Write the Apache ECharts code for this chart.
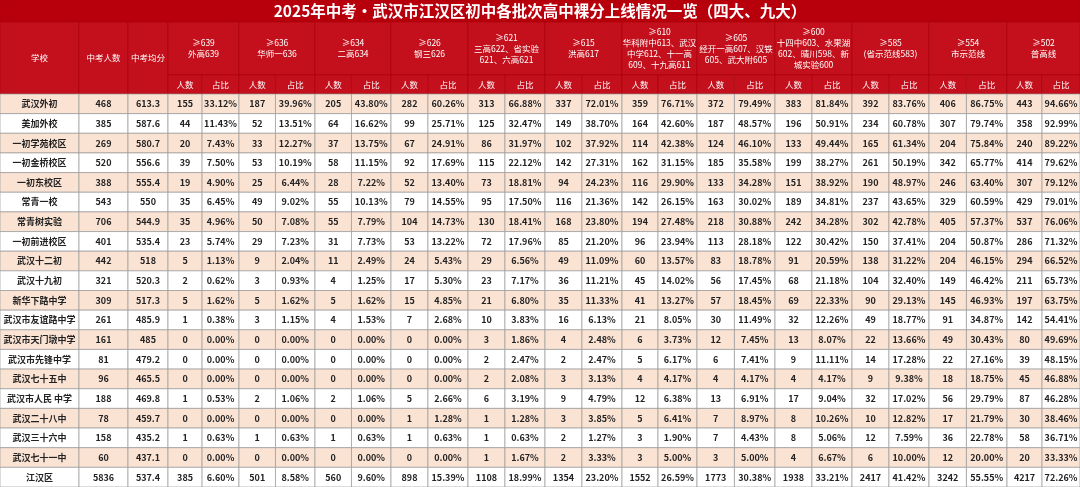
<!DOCTYPE html>
<html style="height: 100%">
<head>
<meta charset="utf-8">
</head>
<body style="height: 100%; margin: 0">
<div id="container" style="height: 100%"></div>
<script src="https://cdn.jsdelivr.net/npm/echarts@6/dist/echarts.min.js"></script>
<script type="text/javascript">
var title = '2025年中考•武汉市江汉区初中各批次高中裸分上线情况一览（四大、九大）';
var schools = ['武汉外初', '美加外校', '一初学苑校区', '一初金桥校区', '一初东校区', '常青一校', '常青树实验', '一初前进校区', '武汉十二初', '武汉十九初', '新华下路中学', '武汉市友谊路中学', '武汉市天门墩中学', '武汉市先锋中学', '武汉七十五中', '武汉市人民 中学', '武汉二十八中', '武汉三十六中', '武汉七十一中', '江汉区'];
var totals = [468, 385, 269, 520, 388, 543, 706, 401, 442, 321, 309, 261, 161, 81, 96, 188, 78, 158, 60, 5836];
var avgs = ['613.3', '587.6', '580.7', '556.6', '555.4', '550', '544.9', '535.4', '518', '520.3', '517.3', '485.9', '485', '479.2', '465.5', '469.8', '459.7', '435.2', '437.1', '537.4'];

var groupHeads = ['≥639\n外高639', '≥636\n华师一636', '≥634\n二高634', '≥626\n钢三626',
  '≥621\n三高622、省实验\n621、六高621', '≥615\n洪高617',
  '≥610\n华科附中613、武汉\n中学612、十一高\n609、十九高611',
  '≥605\n经开一高607、汉铁\n605、武大附605',
  '≥600\n十四中603、水果湖\n602、晴川598、新\n城实验600',
  '≥585\n(省示范线583)', '≥554\n市示范线', '≥502\n普高线'];

var n639 = [155, 44, 20, 39, 19, 35, 35, 23, 5, 2, 5, 1, 0, 0, 0, 1, 0, 1, 0, 385];
var p639 = [33.12, 11.43, 7.43, 7.50, 4.90, 6.45, 4.96, 5.74, 1.13, 0.62, 1.62, 0.38, 0, 0, 0, 0.53, 0, 0.63, 0, 6.60];
var n636 = [187, 52, 33, 53, 25, 49, 50, 29, 9, 3, 5, 3, 0, 0, 0, 2, 0, 1, 0, 501];
var p636 = [39.96, 13.51, 12.27, 10.19, 6.44, 9.02, 7.08, 7.23, 2.04, 0.93, 1.62, 1.15, 0, 0, 0, 1.06, 0, 0.63, 0, 8.58];
var n634 = [205, 64, 37, 58, 28, 55, 55, 31, 11, 4, 5, 4, 0, 0, 0, 2, 0, 1, 0, 560];
var p634 = [43.80, 16.62, 13.75, 11.15, 7.22, 10.13, 7.79, 7.73, 2.49, 1.25, 1.62, 1.53, 0, 0, 0, 1.06, 0, 0.63, 0, 9.60];
var n626 = [282, 99, 67, 92, 52, 79, 104, 53, 24, 17, 15, 7, 0, 0, 0, 5, 1, 1, 0, 898];
var p626 = [60.26, 25.71, 24.91, 17.69, 13.40, 14.55, 14.73, 13.22, 5.43, 5.30, 4.85, 2.68, 0, 0, 0, 2.66, 1.28, 0.63, 0, 15.39];
var n621 = [313, 125, 86, 115, 73, 95, 130, 72, 29, 23, 21, 10, 3, 2, 2, 6, 1, 1, 1, 1108];
var p621 = [66.88, 32.47, 31.97, 22.12, 18.81, 17.50, 18.41, 17.96, 6.56, 7.17, 6.80, 3.83, 1.86, 2.47, 2.08, 3.19, 1.28, 0.63, 1.67, 18.99];
var n615 = [337, 149, 102, 142, 94, 116, 168, 85, 49, 36, 35, 16, 4, 2, 3, 9, 3, 2, 2, 1354];
var p615 = [72.01, 38.70, 37.92, 27.31, 24.23, 21.36, 23.80, 21.20, 11.09, 11.21, 11.33, 6.13, 2.48, 2.47, 3.13, 4.79, 3.85, 1.27, 3.33, 23.20];
var n610 = [359, 164, 114, 162, 116, 142, 194, 96, 60, 45, 41, 21, 6, 5, 4, 12, 5, 3, 3, 1552];
var p610 = [76.71, 42.60, 42.38, 31.15, 29.90, 26.15, 27.48, 23.94, 13.57, 14.02, 13.27, 8.05, 3.73, 6.17, 4.17, 6.38, 6.41, 1.90, 5.00, 26.59];
var n605 = [372, 187, 124, 185, 133, 163, 218, 113, 83, 56, 57, 30, 12, 6, 4, 13, 7, 7, 3, 1773];
var p605 = [79.49, 48.57, 46.10, 35.58, 34.28, 30.02, 30.88, 28.18, 18.78, 17.45, 18.45, 11.49, 7.45, 7.41, 4.17, 6.91, 8.97, 4.43, 5.00, 30.38];
var n600 = [383, 196, 133, 199, 151, 189, 242, 122, 91, 68, 69, 32, 13, 9, 4, 17, 8, 8, 4, 1938];
var p600 = [81.84, 50.91, 49.44, 38.27, 38.92, 34.81, 34.28, 30.42, 20.59, 21.18, 22.33, 12.26, 8.07, 11.11, 4.17, 9.04, 10.26, 5.06, 6.67, 33.21];
var n585 = [392, 234, 165, 261, 190, 237, 302, 150, 138, 104, 90, 49, 22, 14, 9, 32, 10, 12, 6, 2417];
var p585 = [83.76, 60.78, 61.34, 50.19, 48.97, 43.65, 42.78, 37.41, 31.22, 32.40, 29.13, 18.77, 13.66, 17.28, 9.38, 17.02, 12.82, 7.59, 10.00, 41.42];
var n554 = [406, 307, 204, 342, 246, 329, 405, 204, 204, 149, 145, 91, 49, 22, 18, 56, 17, 36, 12, 3242];
var p554 = [86.75, 79.74, 75.84, 65.77, 63.40, 60.59, 57.37, 50.87, 46.15, 46.42, 46.93, 34.87, 30.43, 27.16, 18.75, 29.79, 21.79, 22.78, 20.00, 55.55];
var n502 = [443, 358, 240, 414, 307, 429, 537, 286, 294, 211, 197, 142, 80, 39, 45, 87, 30, 58, 20, 4217];
var p502 = [94.66, 92.99, 89.22, 79.62, 79.12, 79.01, 76.06, 71.32, 66.52, 65.73, 63.75, 54.41, 49.69, 48.15, 46.88, 46.28, 38.46, 36.71, 33.33, 72.26];

var groupN = [n639, n636, n634, n626, n621, n615, n610, n605, n600, n585, n554, n502];
var groupP = [p639, p636, p634, p626, p621, p615, p610, p605, p600, p585, p554, p502];

// layout (table grid in pixel units of the value axes)
var colEdges = [0, 79, 128, 168, 239, 315, 391, 468, 545, 622, 697, 775, 852, 929, 1007, 1080];
var titleH = 22, headH = 75, subH = 94, rowH = (487 - 94) / 20;

var RED_T = '#b8000c', RED_H = '#c4101c', PEACH = '#fbe3d4';
var cells = [];
function cell(x0, y0, x1, y1, text, fill, color, font, lh) {
  cells.push({ x0: x0, y0: y0, x1: x1, y1: y1, text: text, fill: fill, color: color, font: font, lh: lh || 12 });
}
var HF = '8.5px "Noto Sans CJK SC"';
var DF = 'bold 9px "Noto Sans CJK SC"';

cell(0, 0, 1080, titleH, title, RED_T, '#fff', 'bold 15.5px "Noto Sans CJK SC"');
cell(0, titleH, colEdges[1], subH, '学校', RED_H, '#fff', HF);
cell(colEdges[1], titleH, colEdges[2], subH, '中考人数', RED_H, '#fff', HF);
cell(colEdges[2], titleH, colEdges[3], subH, '中考均分', RED_H, '#fff', HF);
groupHeads.forEach(function (h, g) {
  var a = colEdges[g + 3], b = colEdges[g + 4], m = a + (b - a) * 0.48;
  cell(a, titleH, b, headH, h, RED_H, '#fff', HF, 11);
  cell(a, headH, m, subH, '人数', RED_H, '#fff', HF);
  cell(m, headH, b, subH, '占比', RED_H, '#fff', HF);
});
schools.forEach(function (s, r) {
  var y0 = subH + r * rowH, y1 = y0 + rowH;
  var fill = (r % 2 === 0 && r < schools.length - 1) ? PEACH : '#ffffff';
  cell(0, y0, colEdges[1], y1, s, fill, '#222', DF);
  cell(colEdges[1], y0, colEdges[2], y1, String(totals[r]), fill, '#222', DF);
  cell(colEdges[2], y0, colEdges[3], y1, avgs[r], fill, '#222', DF);
  groupN.forEach(function (arr, g) {
    var a = colEdges[g + 3], b = colEdges[g + 4], m = a + (b - a) * 0.48;
    cell(a, y0, m, y1, String(arr[r]), fill, '#222', DF);
    cell(m, y0, b, y1, groupP[g][r].toFixed(2) + '%', fill, '#222', DF);
  });
});

var myChart = echarts.init(document.getElementById('container'));
var option = {
  animation: false,
  grid: { left: 0, right: 0, top: 0, bottom: 0 },
  xAxis: { type: 'value', min: 0, max: 1080, show: false },
  yAxis: { type: 'value', min: 0, max: 487, inverse: true, show: false },
  series: [{
    type: 'custom',
    coordinateSystem: 'cartesian2d',
    data: cells.map(function (c) { return [c.x0, c.y0, c.x1, c.y1]; }),
    renderItem: function (params, api) {
      var c = cells[params.dataIndex];
      var p0 = api.coord([api.value(0), api.value(1)]);
      var p1 = api.coord([api.value(2), api.value(3)]);
      var isRed = c.fill !== '#ffffff' && c.fill !== PEACH;
      return {
        type: 'group',
        children: [{
          type: 'rect',
          shape: { x: p0[0], y: p0[1], width: p1[0] - p0[0], height: p1[1] - p0[1] },
          style: { fill: c.fill, stroke: isRed ? '#a8000a' : '#9a9a9a', lineWidth: isRed ? 0.6 : 0.7 }
        }, {
          type: 'text',
          style: {
            text: c.text, x: (p0[0] + p1[0]) / 2, y: (p0[1] + p1[1]) / 2,
            align: 'center', verticalAlign: 'middle', fill: c.color, font: c.font, lineHeight: c.lh
          }
        }]
      };
    }
  }]
};
myChart.setOption(option);
</script>
</body>
</html>
